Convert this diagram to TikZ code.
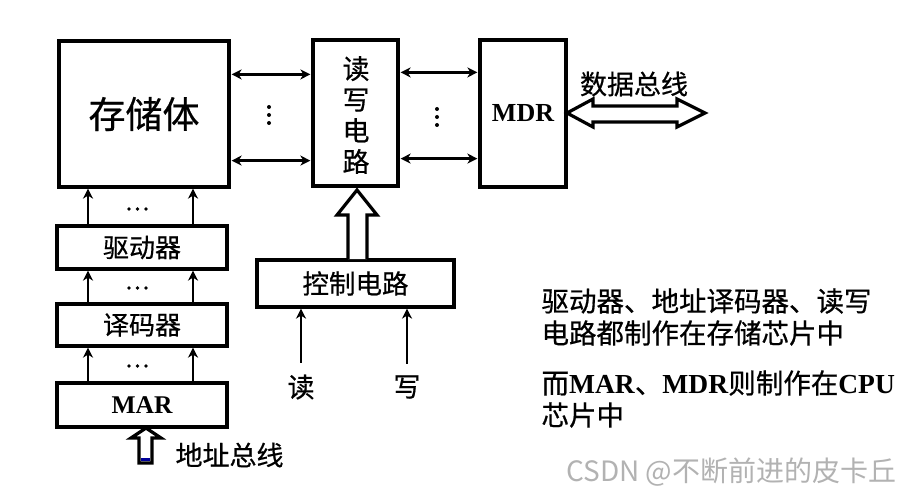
\documentclass[tikz,border=0pt]{standalone}
\usepackage{fontspec}
\setmainfont{Liberation Serif}
\newfontfamily\cjk[FakeBold=0.6]{Noto Sans CJK SC}
\newfontfamily\cjklight{Noto Sans CJK SC}
\usetikzlibrary{arrows.meta,calc}
\begin{document}
\begin{tikzpicture}[x=1pt,y=-1pt,
  box/.style={draw,line width=3.2pt,inner sep=0pt,fill=white},
  cjkt/.style={font=\cjk\fontsize{#1}{#1}\selectfont},
  tip/.style={-{Stealth[length=10pt,width=10pt,inset=3pt]}},
  conn/.style={line width=2.6pt,tip},
  biconn/.style={line width=2.6pt,{Stealth[length=10pt,width=10pt,inset=3pt]}-{Stealth[length=10pt,width=10pt,inset=3pt]}},
  hollow/.style={draw,line width=3.2pt,fill=white,line join=miter}]
\useasboundingbox (0,0) rectangle (915,497);
% boxes
\node[box,minimum width=170pt,minimum height=146pt] (store) at (144,114) {};
\node[cjkt=37] at (store) {存储体};
\node[box,minimum width=85pt,minimum height=146pt] (rw) at (355.5,113) {};
\node[align=center,font=\cjk\fontsize{27}{31}\selectfont] at (356,115) {读\\写\\电\\路};
\node[box,minimum width=86pt,minimum height=147pt,font=\bfseries\fontsize{26}{26}\selectfont] (mdr) at (523,113.5) {MDR};
\node[box,minimum width=170pt,minimum height=43pt,cjkt=26] (drv) at (142,247.5) {驱动器};
\node[box,minimum width=170pt,minimum height=42pt,cjkt=26] (dec) at (142,325) {译码器};
\node[box,minimum width=170pt,minimum height=44pt,font=\bfseries\fontsize{25.5}{25.5}\selectfont] (mar) at (142,405) {MAR};
\node[box,minimum width=197pt,minimum height=47pt,cjkt=26.5] (ctl) at (355.5,283.5) {控制电路};
% store <-> rw
\draw[biconn,shorten <=1pt,shorten >=1pt] ([yshift=-35pt]store.north east) -- ([yshift=-35pt]store.north east -| rw.west);
\draw[biconn,shorten <=1pt,shorten >=1pt] ([yshift=28pt]store.south east) -- ([yshift=28pt]store.south east -| rw.west);
\fill (269,107) circle (2pt) (269,115) circle (2pt) (269,123) circle (2pt);
% rw <-> mdr
\draw[biconn,shorten <=1pt,shorten >=1pt] ([yshift=-34pt]rw.north east) -- ([yshift=-34pt]rw.north east -| mdr.west);
\draw[biconn,shorten <=1pt,shorten >=1pt] ([yshift=29pt]rw.south east) -- ([yshift=29pt]rw.south east -| mdr.west);
\fill (437,109) circle (2pt) (437,117) circle (2pt) (437,125) circle (2pt);
% data bus
\draw[hollow] (567,113) -- (593,99) -- (593,106) -- (677,106) -- (677,99) -- (705,113) -- (677,127) -- (677,122) -- (593,122) -- (593,127) -- cycle;
\node[cjkt=27] (dbus) at (634,84) {数据总线};
% left column arrows
\coordinate (xl) at (88,0);
\coordinate (xr) at (193,0);
\foreach \a/\b in {drv/store,dec/drv,mar/dec}{
  \draw[conn] (xl |- \a.north) -- (xl |- \b.south);
  \draw[conn] (xr |- \a.north) -- (xr |- \b.south);
}
\foreach \y in {209,288,366}{
  \fill (129,\y) circle (1.9pt) (137.5,\y) circle (1.9pt) (146,\y) circle (1.9pt);
}
% address bus
\draw[hollow] (139,463) -- (139,438) -- (131,438) -- (146,428) -- (161,438) -- (152,438) -- (152,463) -- cycle;
\fill[blue!60!black] (140.6,458) rectangle (150.4,461.4);
\node[cjkt=27,anchor=west] (abus) at (172,455) {地址总线};
% control
\draw[hollow] (348,259) -- (348,215) -- (337,215) -- (357,190) -- (377,215) -- (367,215) -- (367,259);
\node[cjkt=27] (rd) at (301,387) {读};
\node[cjkt=27] (wr) at (407,387) {写};
\draw[conn] (rd.north) ++(0,-8) -- (rd.north |- ctl.south);
\draw[conn] (wr.north) ++(0,-8) -- (wr.north |- ctl.south);
% notes
\node[cjkt=27.5,anchor=west] (n1) at (538,301) {驱动器、地址译码器、读写};
\node[cjkt=27.5,anchor=west] (n2) at (538,333) {电路都制作在存储芯片中};
\node[anchor=west,font=\fontsize{27.5}{27.5}\selectfont] (n3) at (538,383) {{\cjk 而}\textbf{MAR}{\cjk 、}\textbf{MDR}{\cjk 则制作在}\textbf{CPU}};
\node[cjkt=27.5,anchor=west] (n4) at (538,415) {芯片中};
% watermark
\node[font=\cjklight\fontsize{28}{28}\selectfont,anchor=east,text=black!30] (wm) at (900,472) {CSDN @不断前进的皮卡丘};
\end{tikzpicture}
\end{document}
